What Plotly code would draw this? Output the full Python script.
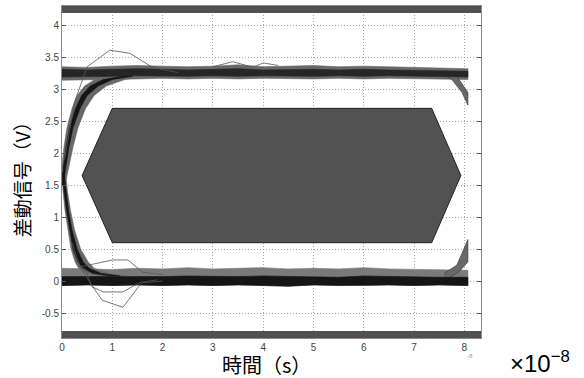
import plotly.graph_objects as go

# ---------------- data ----------------
x_ticks = [0, 1, 2, 3, 4, 5, 6, 7, 8]
y_ticks = [-0.5, 0, 0.5, 1, 1.5, 2, 2.5, 3, 3.5, 4]
y_tick_labels = ["-0.5", "0", "0.5", "1", "1.5", "2", "2.5", "3", "3.5", "4"]

# eye mask (hexagon) and top/bottom mask limits
mask_x = [0.40, 1.00, 7.35, 7.93, 7.35, 1.00, 0.40]
mask_y = [1.65, 2.70, 2.70, 1.65, 0.60, 0.60, 1.65]
mask_top_limit = 4.19
mask_bottom_limit = -0.78

# high level band
hi_x = [0, 0.5, 1, 1.5, 2, 2.5, 3, 3.5, 4, 4.5, 5, 5.5, 6, 6.5, 7, 7.5, 8.07]
hi_top = [3.35, 3.34, 3.36, 3.37, 3.36, 3.35, 3.36, 3.38, 3.35, 3.36, 3.37, 3.35, 3.36, 3.35, 3.34, 3.33, 3.32]
hi_bot = [3.14, 3.15, 3.15, 3.16, 3.17, 3.16, 3.17, 3.16, 3.17, 3.17, 3.16, 3.17, 3.16, 3.17, 3.17, 3.16, 3.15]
hi_core_top = [3.31, 3.30, 3.31, 3.32, 3.31, 3.30, 3.31, 3.32, 3.30, 3.31, 3.31, 3.30, 3.31, 3.30, 3.29, 3.29, 3.28]
hi_core_bot = [3.19, 3.20, 3.20, 3.21, 3.21, 3.20, 3.21, 3.20, 3.21, 3.21, 3.20, 3.21, 3.20, 3.21, 3.21, 3.20, 3.19]

# low level band
lo_x = [0, 0.5, 1, 1.5, 2, 2.5, 3, 3.5, 4, 4.5, 5, 5.5, 6, 6.5, 7, 7.5, 8.07]
lo_top = [0.20, 0.19, 0.18, 0.20, 0.19, 0.21, 0.19, 0.20, 0.21, 0.19, 0.20, 0.19, 0.21, 0.19, 0.18, 0.17, 0.17]
lo_mid = [0.07, 0.07, 0.06, 0.07, 0.07, 0.08, 0.07, 0.07, 0.08, 0.07, 0.07, 0.06, 0.08, 0.07, 0.06, 0.06, 0.06]
lo_bot = [-0.07, -0.06, -0.07, -0.06, -0.07, -0.06, -0.07, -0.06, -0.07, -0.08, -0.06, -0.07, -0.07, -0.06, -0.07, -0.06, -0.07]

# rising edge band (by voltage level)
rise_y = [1.5, 1.8, 2.1, 2.4, 2.7, 2.9, 3.05, 3.15, 3.2]
rise_x_left = [0.0, 0.0, 0.04, 0.10, 0.20, 0.30, 0.45, 0.65, 1.0]
rise_x_right = [0.06, 0.14, 0.22, 0.32, 0.47, 0.64, 0.88, 1.25, 1.60]
rise_core_left = [0.0, 0.03, 0.08, 0.15, 0.27, 0.39, 0.56, 0.82, 1.2]
rise_core_right = [0.03, 0.08, 0.14, 0.22, 0.36, 0.50, 0.72, 1.00, 1.4]

# falling edge band
fall_y = [1.7, 1.4, 1.1, 0.8, 0.5, 0.3, 0.2, 0.12, 0.08]
fall_x_left = [0.0, 0.02, 0.06, 0.12, 0.18, 0.26, 0.33, 0.50, 0.80]
fall_x_right = [0.07, 0.11, 0.17, 0.25, 0.37, 0.52, 0.64, 0.92, 1.30]
fall_core_left = [0.01, 0.04, 0.09, 0.15, 0.22, 0.32, 0.42, 0.62, 0.95]
fall_core_right = [0.04, 0.08, 0.13, 0.20, 0.30, 0.42, 0.54, 0.78, 1.15]

# transitions starting at the right end
end_fall_x = [7.60, 7.85, 8.07, 8.07, 7.95, 7.75, 7.60]
end_fall_y = [3.30, 3.20, 2.95, 2.75, 2.95, 3.15, 3.22]
end_rise_x = [7.60, 7.85, 8.07, 8.07, 7.90, 7.70, 7.60]
end_rise_y = [0.12, 0.25, 0.65, 0.30, 0.15, 0.05, 0.05]

# stray individual traces
stray1_x = [0.05, 0.25, 0.50, 0.95, 1.35, 1.80, 2.30]
stray1_y = [1.90, 2.80, 3.35, 3.61, 3.56, 3.34, 3.26]
stray2_x = [0.20, 0.36, 1.00, 1.31, 1.60, 2.00]
stray2_y = [0.60, 0.22, 0.33, 0.33, 0.14, 0.10]
stray3_x = [0.30, 0.56, 0.80, 1.21, 1.58, 2.00]
stray3_y = [0.30, -0.03, -0.30, -0.41, -0.03, 0.00]
stray4_x = [0.45, 0.60, 0.82, 1.21, 1.55, 1.90]
stray4_y = [0.20, -0.09, -0.17, -0.17, -0.02, 0.02]
stray5_x = [3.00, 3.40, 3.75, 3.85, 4.00, 4.30]
stray5_y = [3.35, 3.43, 3.35, 3.36, 3.41, 3.37]

x_range = [0, 8.33]
y_range = [-0.89, 4.30]

# ---------------- figure ----------------
fig = go.Figure()

GRAY = "#686868"
DARK = "#262626"

def band(xs, top, bot, color):
    fig.add_trace(go.Scatter(x=list(xs) + list(xs)[::-1], y=list(top) + list(bot)[::-1],
                             fill="toself", fillcolor=color, mode="lines",
                             line=dict(color=color, width=0.6), hoverinfo="skip"))

def vband(ys, left, right, color):
    fig.add_trace(go.Scatter(x=list(left) + list(right)[::-1], y=list(ys) + list(ys)[::-1],
                             fill="toself", fillcolor=color, mode="lines",
                             line=dict(color=color, width=0.6), hoverinfo="skip"))

# mask hexagon
fig.add_trace(go.Scatter(x=mask_x, y=mask_y, fill="toself", fillcolor="#525252",
                         mode="lines", line=dict(color="#222222", width=1), hoverinfo="skip"))

# bands
band(hi_x, hi_top, hi_bot, GRAY)
band(lo_x, lo_top, lo_bot, "#7a7a7a")
vband(rise_y, rise_x_left, rise_x_right, GRAY)
vband(fall_y, fall_x_left, fall_x_right, GRAY)
fig.add_trace(go.Scatter(x=end_fall_x, y=end_fall_y, fill="toself", fillcolor=GRAY, mode="lines",
                         line=dict(color="#333333", width=0.6), hoverinfo="skip"))
fig.add_trace(go.Scatter(x=end_rise_x, y=end_rise_y, fill="toself", fillcolor=GRAY, mode="lines",
                         line=dict(color="#333333", width=0.6), hoverinfo="skip"))

band(hi_x, hi_core_top, hi_core_bot, DARK)
band(lo_x, lo_mid, lo_bot, "#151515")
vband(rise_y, rise_core_left, rise_core_right, "#151515")
vband(fall_y, fall_core_left, fall_core_right, "#151515")

for sx, sy in [(stray1_x, stray1_y), (stray2_x, stray2_y), (stray3_x, stray3_y),
               (stray4_x, stray4_y), (stray5_x, stray5_y)]:
    fig.add_trace(go.Scatter(x=sx, y=sy, mode="lines", line=dict(color="#555555", width=0.8),
                             hoverinfo="skip"))

# top / bottom masks
fig.add_shape(type="rect", xref="paper", x0=0, x1=1, yref="y", y0=mask_top_limit, y1=y_range[1],
              fillcolor="#505050", line=dict(width=0), layer="above")
fig.add_shape(type="rect", xref="paper", x0=0, x1=1, yref="y", y0=y_range[0], y1=mask_bottom_limit,
              fillcolor="#505050", line=dict(width=0), layer="above")

tick_font = dict(family="Liberation Sans, Arial, sans-serif", size=10, color="#444444")

fig.update_xaxes(range=x_range, tickvals=x_ticks, ticktext=[str(v) for v in x_ticks],
                 showgrid=True, gridcolor="#a8a8a8", griddash="1px,2px", gridwidth=1,
                 showline=True, linecolor="#8a8a8a", linewidth=1, mirror=True,
                 ticks="inside", ticklen=4, tickcolor="#555555", tickfont=tick_font,
                 zeroline=False, fixedrange=True)
fig.update_yaxes(range=y_range, tickvals=y_ticks, ticktext=y_tick_labels,
                 showgrid=True, gridcolor="#a8a8a8", griddash="1px,2px", gridwidth=1,
                 showline=True, linecolor="#8a8a8a", linewidth=1, mirror="ticks",
                 ticks="inside", ticklen=4, tickcolor="#555555", tickfont=tick_font,
                 zeroline=False, fixedrange=True)

cjk = "Noto Sans CJK JP"
fig.add_annotation(text="時間（s）", xref="paper", yref="paper", x=0.489, y=-0.078,
                   showarrow=False, font=dict(family=cjk, size=20, color="#000000"),
                   height=22, valign="middle", xanchor="center", yanchor="middle")
fig.add_annotation(text="差動信号（V）", xref="paper", yref="paper", x=-0.095, y=0.491,
                   showarrow=False, textangle=-90, font=dict(family=cjk, size=19, color="#000000"),
                   xanchor="center", yanchor="middle")
fig.add_annotation(text="×10<sup>−8</sup>", xref="paper", yref="paper", x=1.141, y=-0.072,
                   showarrow=False, font=dict(family="Liberation Sans, Arial, sans-serif", size=24, color="#000000"),
                   xanchor="center", yanchor="middle")
fig.add_annotation(text="-8", xref="paper", yref="paper", x=0.974, y=-0.054,
                   showarrow=False, font=dict(family="Liberation Sans, Arial, sans-serif", size=6, color="#999999"),
                   xanchor="center", yanchor="middle")

fig.update_layout(width=584, height=378, margin=dict(l=62, r=103, t=6, b=40),
                  paper_bgcolor="white", plot_bgcolor="white", showlegend=False)

fig.write_html("out.html", config={"displayModeBar": False},
               post_script="document.body.style.margin='0';document.body.style.padding='0';")
